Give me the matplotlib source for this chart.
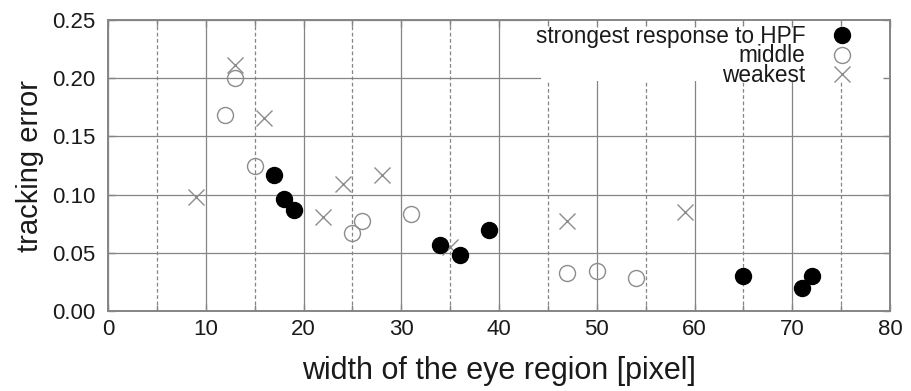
import matplotlib
matplotlib.use('Agg')
import matplotlib.pyplot as plt
from matplotlib.patches import Rectangle
from matplotlib.ticker import MultipleLocator, FormatStrFormatter

plt.rcParams['font.family'] = ['Liberation Sans', 'DejaVu Sans']

# ---- data ----
strong_x = [17, 18, 19, 34, 36, 39, 65, 71, 72]
strong_y = [0.117, 0.096, 0.087, 0.057, 0.048, 0.070, 0.030, 0.020, 0.030]
middle_x = [12, 13, 15, 25, 26, 31, 47, 50, 54]
middle_y = [0.168, 0.200, 0.125, 0.067, 0.077, 0.083, 0.033, 0.034, 0.028]
weak_x = [9, 13, 16, 22, 24, 28, 35, 47, 59]
weak_y = [0.098, 0.211, 0.166, 0.081, 0.109, 0.117, 0.055, 0.077, 0.085]
series_labels = ['strongest response to HPF', 'middle', 'weakest']
x_label = 'width of the eye region [pixel]'
y_label = 'tracking error'

GRAY = '#8c8c8c'
LINE = '#858585'
TXT = '#1a1a1a'

fig = plt.figure(figsize=(9.11, 3.91), dpi=100)
pos = [108 / 911, 1 - 311 / 391, (890 - 108) / 911, (311 - 20) / 391]
ax = fig.add_axes(pos)

ax.set_xlim(0, 80)
ax.set_ylim(0, 0.25)
ax.xaxis.set_major_locator(MultipleLocator(10))
ax.xaxis.set_minor_locator(MultipleLocator(5))
ax.yaxis.set_major_locator(MultipleLocator(0.05))
ax.yaxis.set_major_formatter(FormatStrFormatter('%.2f'))

ax.grid(True, which='major', color=LINE, lw=0.9, ls='-')
ax.grid(True, which='minor', axis='x', color=LINE, lw=0.9, ls=(0, (3, 2)))
ax.tick_params(which='both', length=0, labelsize=16, labelcolor=TXT)
ax.tick_params(axis='y', pad=9)
ax.tick_params(axis='x', pad=6)
for s in ax.spines.values():
    s.set_visible(False)

# white area behind the key (hides the grid there)
ax.add_patch(Rectangle((0.5537, 0.790), 0.4463, 0.210, transform=ax.transAxes,
                       facecolor='white', edgecolor='none', zorder=1.8))

h_weak, = ax.plot(weak_x, weak_y, ls='none', marker='x', ms=12, mew=1.0,
                  color=GRAY, label=series_labels[2])
h_mid, = ax.plot(middle_x, middle_y, ls='none', marker='o', ms=11.5, mew=1.0,
                 mfc='none', mec=GRAY, label=series_labels[1])
h_str, = ax.plot(strong_x, strong_y, ls='none', marker='o', ms=11.5, mew=1.0,
                 color='black', label=series_labels[0])

ax.set_xlabel(x_label, fontsize=22, color=TXT, labelpad=11)
ax.set_ylabel(y_label, fontsize=21, color=TXT, labelpad=6)

leg = ax.legend([h_str, h_mid, h_weak], series_labels, loc='upper right',
                bbox_to_anchor=(1, 1.007), borderaxespad=0, borderpad=0.3,
                handlelength=3.64, handletextpad=-0.2, labelspacing=-0.145,
                markerfirst=False, frameon=False, fontsize=16.3)
for t in leg.get_texts():
    t.set_color(TXT)

# overlay axes for spines and inward ticks drawn above the key area
ax2 = fig.add_axes(pos, sharex=ax, sharey=ax, zorder=ax.get_zorder() + 1)
ax2.patch.set_alpha(0)
ax2.grid(False)
ax2.tick_params(which='both', direction='in', top=True, right=True,
                labelleft=False, labelbottom=False, color=LINE, width=1.0)
ax2.tick_params(which='major', length=5)
ax2.tick_params(which='minor', length=4)
for s in ax2.spines.values():
    s.set_color(LINE)
    s.set_linewidth(1.4)

fig.savefig('out.png', dpi=100)
